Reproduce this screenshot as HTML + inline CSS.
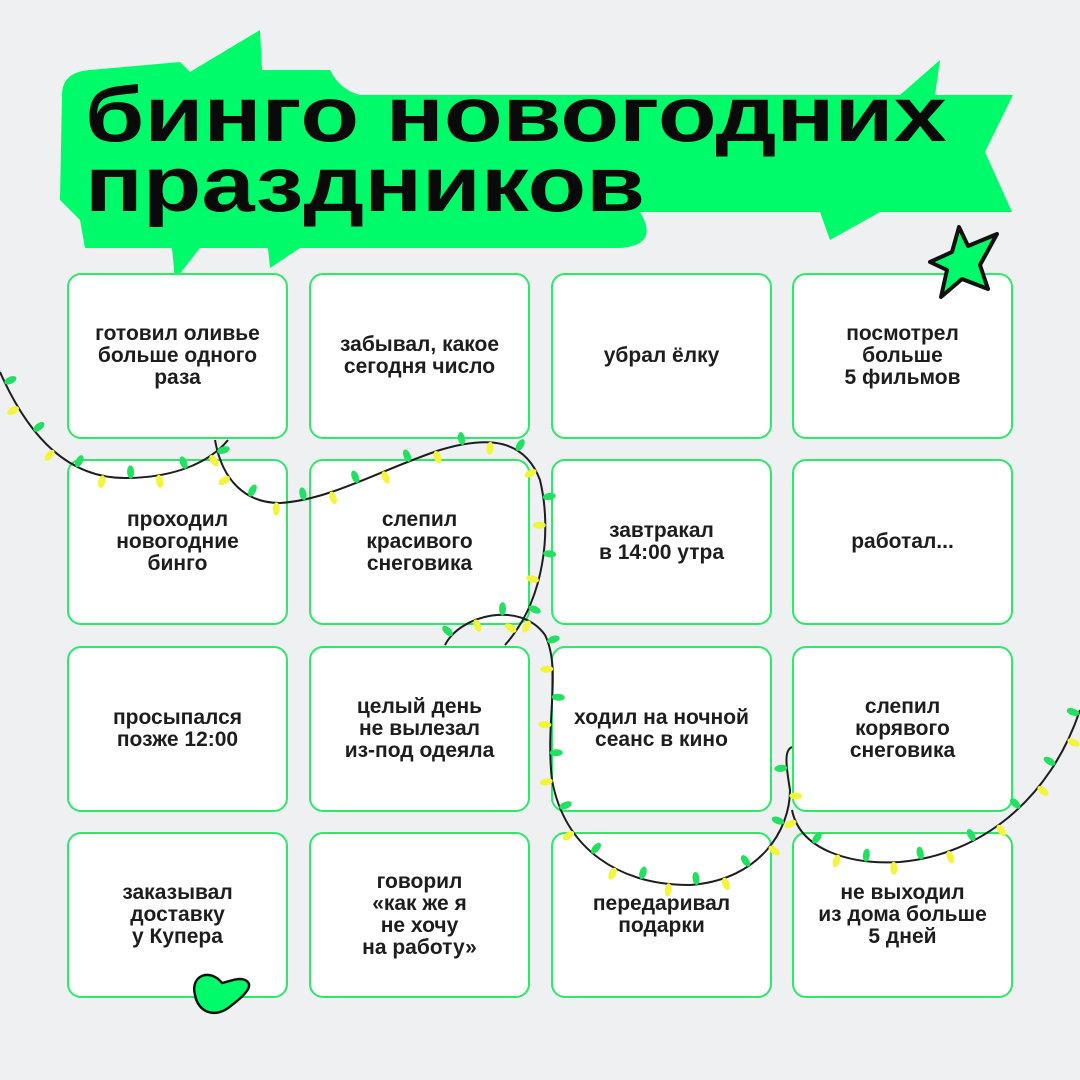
<!DOCTYPE html>
<html><head><meta charset="utf-8"><style>
html,body{margin:0;padding:0;background:#eef0f2}
body{width:1080px;height:1080px;position:relative;overflow:hidden;font-family:"Liberation Sans",sans-serif}
.c{position:absolute;width:221px;height:166px;background:#fff;border:2px solid #2ee86a;border-radius:14px;box-sizing:border-box;display:flex;align-items:center;justify-content:center;text-align:center;font-weight:bold;font-size:21px;line-height:22px;color:#1d1d1d}
svg{position:absolute;left:0;top:0}
</style></head><body>
<svg width="1080" height="1080" style="z-index:0">
<path fill="#00fb6a" d="M62,95 Q62,72 90,70 L180,62 L190,72 L260,30 L262,70 L330,70 Q340,90 360,95 L900,95 L940,60 L935,95 L1013,95 L985,152 L1012,212 L880,212 L830,240 L820,212 L640,212 Q660,245 620,248 L300,248 L270,268 L268,248 L200,248 L175,280 L172,248 L85,248 L80,220 L60,200 Z"/>
<text x="85" y="141" font-family="Liberation Sans" font-weight="bold" font-size="78" textLength="862" lengthAdjust="spacingAndGlyphs" fill="#0a0a0a">бинго новогодних</text>
<text x="85" y="211" font-family="Liberation Sans" font-weight="bold" font-size="78" textLength="560" lengthAdjust="spacingAndGlyphs" fill="#0a0a0a">праздников</text>
</svg>
<div class="c" style="left:67px;top:273px">готовил оливье<br>больше одного<br>раза</div>
<div class="c" style="left:309px;top:273px">забывал, какое<br>сегодня число</div>
<div class="c" style="left:551px;top:273px">убрал ёлку</div>
<div class="c" style="left:792px;top:273px">посмотрел<br>больше<br>5 фильмов</div>
<div class="c" style="left:67px;top:459px">проходил<br>новогодние<br>бинго</div>
<div class="c" style="left:309px;top:459px">слепил<br>красивого<br>снеговика</div>
<div class="c" style="left:551px;top:459px">завтракал<br>в 14:00 утра</div>
<div class="c" style="left:792px;top:459px">работал...</div>
<div class="c" style="left:67px;top:646px">просыпался<br>позже 12:00</div>
<div class="c" style="left:309px;top:646px">целый день<br>не вылезал<br>из-под одеяла</div>
<div class="c" style="left:551px;top:646px">ходил на ночной<br>сеанс в кино</div>
<div class="c" style="left:792px;top:646px">слепил<br>корявого<br>снеговика</div>
<div class="c" style="left:67px;top:832px">заказывал<br>доставку<br>у Купера</div>
<div class="c" style="left:309px;top:832px">говорил<br>«как же я<br>не хочу<br>на работу»</div>
<div class="c" style="left:551px;top:832px">передаривал<br>подарки</div>
<div class="c" style="left:792px;top:832px">не выходил<br>из дома больше<br>5 дней</div>
<svg id="g" width="1080" height="1080" style="z-index:2">
<g fill="none" stroke="#1d1d1d" stroke-width="2">
<path class="p" d="M0,372 C30,440 70,478 125,478 C175,478 210,462 228,440"/>
<path class="p" d="M215,440 C222,480 245,503 280,503 C330,500 380,470 440,450 C490,435 525,440 540,480 C552,530 545,600 505,645"/>
<path class="p" d="M445,645 C460,615 520,600 545,635 C562,670 545,720 552,780 C565,850 620,885 690,885 C760,880 790,830 790,790 C785,760 785,750 792,747"/>
<path class="p" d="M792,810 C800,850 850,865 900,862 C980,855 1050,800 1080,710"/>
</g>
<g id="b"></g>
<path d="M959,227 L968,246 L997,234 L980,265 L988,289 L962,279 L941,297 L947,270 L930,262 L952,252 Z" fill="#00fb6a" stroke="#111" stroke-width="4" stroke-linejoin="round"/>
<path d="M222,983 C210,968 190,975 195,995 C198,1012 215,1020 232,1005 C245,995 255,985 245,980 C238,977 228,982 222,983 Z" fill="#00fb6a" stroke="#111" stroke-width="2.5"/>
</svg>
<script>
var ns="http://www.w3.org/2000/svg",b=document.getElementById("b"),k=0;
document.querySelectorAll(".p").forEach(function(p){var L=p.getTotalLength();for(var s=12;s<L;s+=28){var a=p.getPointAtLength(s),q=p.getPointAtLength(Math.min(L,s+1));var ang=Math.atan2(q.y-a.y,q.x-a.x)*180/Math.PI;var side=(k%2?1:-1);var r=(ang+90)*Math.PI/180;var cx=a.x+Math.cos(r)*6*side,cy=a.y+Math.sin(r)*6*side;var e=document.createElementNS(ns,"ellipse");e.setAttribute("cx",cx);e.setAttribute("cy",cy);e.setAttribute("rx",6.5);e.setAttribute("ry",3.5);e.setAttribute("transform","rotate("+(ang+90)+" "+cx+" "+cy+")");e.setAttribute("fill",k%2?"#f4f53a":"#22e060");b.appendChild(e);k++;}});
</script>
</body></html>
